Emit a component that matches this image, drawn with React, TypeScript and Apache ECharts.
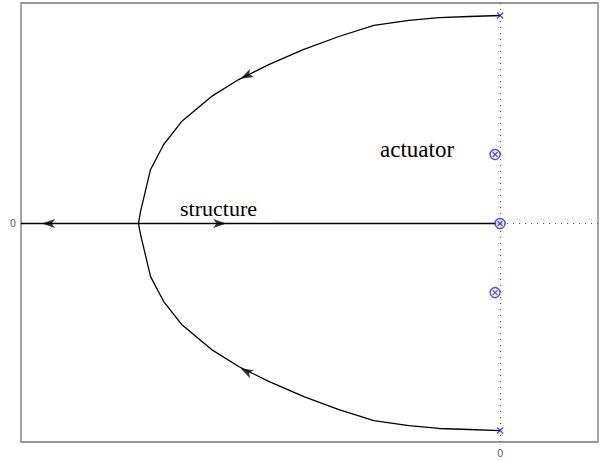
import React, { useEffect, useRef } from "react";
import * as echarts from "echarts";

// Root locus, upper branch: from the lightly damped pole pair towards the real axis
const upperBranchX = [0, -0.149, -0.293, -0.438, -0.606, -0.774, -0.942, -1.111, -1.255, -1.385, -1.529, -1.615, -1.678, -1.726, -1.736];
const upperBranchY = [1.0, 0.995, 0.99, 0.976, 0.952, 0.899, 0.837, 0.764, 0.692, 0.611, 0.49, 0.38, 0.26, 0.058, 0];
// Lower branch (complex conjugate)
const lowerBranchX = [0, -0.149, -0.293, -0.438, -0.606, -0.774, -0.942, -1.111, -1.255, -1.385, -1.529, -1.615, -1.678, -1.726, -1.736];
const lowerBranchY = [-0.995, -0.99, -0.985, -0.971, -0.947, -0.894, -0.832, -0.759, -0.687, -0.606, -0.485, -0.375, -0.255, -0.053, 0];
// Branch along the negative real axis
const realAxisX = [-2.3, 0];
const realAxisY = [0, 0];

// Direction arrows: position and heading (degrees, counter-clockwise from +x)
const arrowX = [-1.219, -1.219, -2.168, -1.346];
const arrowY = [0.71, -0.71, 0, 0];
const arrowAngle = [206.6, 153.4, 180, 0];

// Open-loop poles (x) and zeros (circled x)
const poleX = [0, 0];
const poleY = [1.0, -0.995];
const zeroX = [-0.024, 0, -0.024];
const zeroY = [0.332, 0, -0.332];

const tickValues = [0];

const BLUE = "#1f1fff";
const ARROW = "path://M12,4 L0,0 L3,4 L0,8 Z";
const CROSS = "path://M0,0 L10,10 M10,0 L0,10";

function pairs(xs: number[], ys: number[]) {
  return xs.map((x, i) => [x, ys[i]]);
}

export default function App() {
  const ref = useRef<HTMLDivElement>(null);

  useEffect(() => {
    document.body.style.margin = "0";
    const chart = echarts.init(ref.current!, undefined, { renderer: "svg" });

    const axisCommon = {
      type: "value" as const,
      axisLine: { show: false },
      splitLine: { show: false },
      axisTick: { show: true, inside: true, length: 5, customValues: tickValues, lineStyle: { color: "#777", width: 1 } },
    };

    chart.setOption({
      animation: false,
      backgroundColor: "#fff",
      grid: {
        show: true,
        left: 21,
        top: 3,
        width: 577,
        height: 439,
        borderColor: "#777",
        borderWidth: 1.3,
        backgroundColor: "transparent",
      },
      xAxis: [
        {
          ...axisCommon,
          min: -2.3,
          max: 0.47,
          position: "bottom",
          axisLabel: { show: true, customValues: tickValues, color: "#666", fontSize: 10, fontFamily: "DejaVu Sans", margin: 6 },
        },
        {
          ...axisCommon,
          min: -2.3,
          max: 0.47,
          position: "top",
          axisLabel: { show: false },
        },
      ],
      yAxis: [
        {
          ...axisCommon,
          min: -1.05,
          max: 1.06,
          position: "left",
          axisLabel: { show: true, customValues: tickValues, color: "#666", fontSize: 10, fontFamily: "DejaVu Sans", margin: 5 },
        },
        {
          ...axisCommon,
          min: -1.05,
          max: 1.06,
          position: "right",
          axisLabel: { show: false },
        },
      ],
      graphic: [
        {
          type: "text",
          left: 180,
          top: 197,
          style: { text: "structure", fill: "#000", font: "22px 'Liberation Serif'" },
          z: 20,
        },
        {
          type: "text",
          left: 380,
          top: 138,
          style: { text: "actuator", fill: "#000", font: "23px 'Liberation Serif'" },
          z: 20,
        },
      ],
      series: [
        {
          type: "line",
          data: pairs(realAxisX, realAxisY),
          symbol: "none",
          lineStyle: { color: "#000", width: 1.4 },
          z: 3,
          markLine: {
            silent: true,
            symbol: "none",
            label: { show: false },
            lineStyle: { color: "#555", type: [1, 5], width: 1 },
            data: [{ xAxis: 0 }, { yAxis: 0 }],
            z: 1,
          },
        },
        {
          type: "line",
          data: pairs(upperBranchX, upperBranchY),
          symbol: "none",
          lineStyle: { color: "#000", width: 1.3 },
          z: 3,
        },
        {
          type: "line",
          data: pairs(lowerBranchX, lowerBranchY),
          symbol: "none",
          lineStyle: { color: "#000", width: 1.3 },
          z: 3,
        },
        {
          type: "scatter",
          data: arrowX.map((x, i) => ({ value: [x, arrowY[i]], symbolRotate: arrowAngle[i] })),
          symbol: ARROW,
          symbolSize: [13, 9],
          itemStyle: { color: "#000" },
          z: 4,
        },
        {
          type: "scatter",
          data: pairs(poleX, poleY),
          symbol: CROSS,
          symbolSize: 6,
          itemStyle: { color: "transparent", borderColor: BLUE, borderWidth: 1.5 },
          z: 5,
        },
        {
          type: "scatter",
          data: pairs(zeroX, zeroY),
          symbol: "circle",
          symbolSize: 10,
          itemStyle: { color: "#fff", borderColor: BLUE, borderWidth: 1.5 },
          z: 5,
        },
        {
          type: "scatter",
          data: pairs(zeroX, zeroY),
          symbol: CROSS,
          symbolSize: 5,
          itemStyle: { color: "transparent", borderColor: BLUE, borderWidth: 1.3 },
          z: 6,
        },
      ],
    });

    return () => chart.dispose();
  }, []);

  return <div ref={ref} style={{ width: 607, height: 461 }} />;
}
